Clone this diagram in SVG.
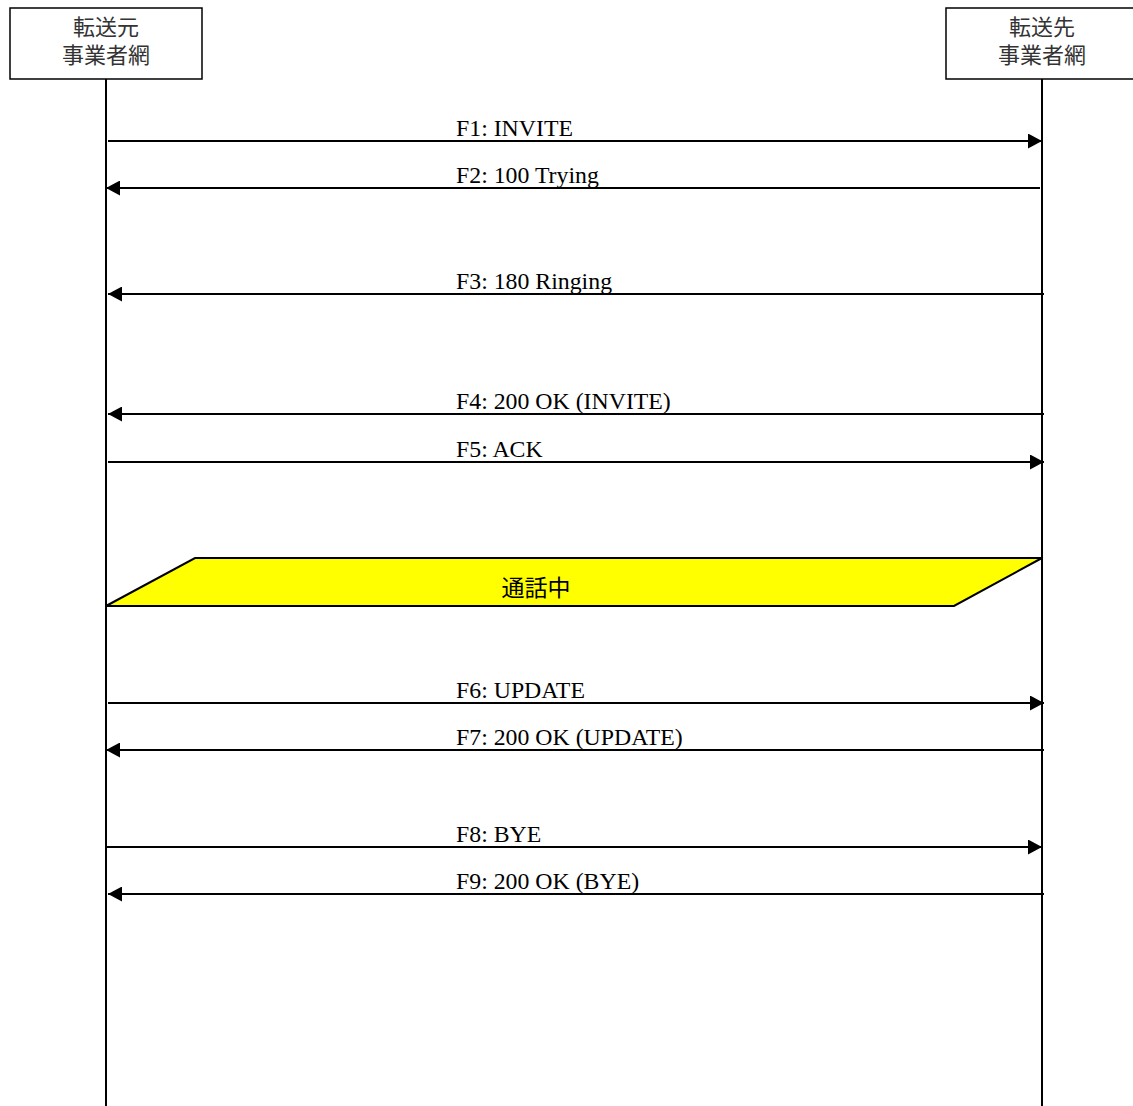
<svg xmlns="http://www.w3.org/2000/svg" width="1133" height="1106" viewBox="0 0 1133 1106">
<style>
.box{fill:#fff;stroke:#000;stroke-width:1.5}
.life{stroke:#000;stroke-width:2;fill:none}
.msg{stroke:#000;stroke-width:2;fill:none}
.jp{font-family:"Noto Sans CJK JP","Noto Sans CJK SC",sans-serif;font-size:22px;fill:#333;text-anchor:middle}
.lbl{font-family:"Liberation Serif","Times New Roman",serif;font-size:23.8px;fill:#000}
</style>
<defs>
<marker id="ah" markerWidth="14" markerHeight="15" refX="14" refY="7.5" orient="auto" markerUnits="userSpaceOnUse">
<path d="M0,0 L14,7.5 L0,15 Z" fill="#000"/>
</marker>
</defs>
<g id="node-src">
<rect class="box" x="10" y="8" width="192" height="71"/>
<text class="jp" x="106" y="35">転送元</text>
<text class="jp" x="106" y="63">事業者網</text>
<line class="life" x1="106" y1="79" x2="106" y2="1106"/>
</g>
<g id="node-dst">
<rect class="box" x="946" y="8" width="192" height="71"/>
<text class="jp" x="1042" y="35">転送先</text>
<text class="jp" x="1042" y="63">事業者網</text>
<line class="life" x1="1042" y1="79" x2="1042" y2="1106"/>
</g>
<g id="node-call">
<polygon points="106,606 195,558 1042,558 954,606" fill="#ffff00" stroke="#000" stroke-width="2"/>
<text class="jp" x="536" y="596" style="fill:#000;font-size:23px">通話中</text>
</g>
<g id="connectors">
<line class="msg" x1="108" y1="141" x2="1042" y2="141" marker-end="url(#ah)"/>
<line class="msg" x1="1040" y1="188" x2="106" y2="188" marker-end="url(#ah)"/>
<line class="msg" x1="1044" y1="294" x2="108" y2="294" marker-end="url(#ah)"/>
<line class="msg" x1="1044" y1="414" x2="108" y2="414" marker-end="url(#ah)"/>
<line class="msg" x1="108" y1="462" x2="1044" y2="462" marker-end="url(#ah)"/>
<line class="msg" x1="108" y1="703" x2="1044" y2="703" marker-end="url(#ah)"/>
<line class="msg" x1="1044" y1="750" x2="106" y2="750" marker-end="url(#ah)"/>
<line class="msg" x1="106" y1="847" x2="1042" y2="847" marker-end="url(#ah)"/>
<line class="msg" x1="1044" y1="894" x2="108" y2="894" marker-end="url(#ah)"/>
<text class="lbl" x="456" y="136">F1: INVITE</text>
<text class="lbl" x="456" y="183">F2: 100 Trying</text>
<text class="lbl" x="456" y="289">F3: 180 Ringing</text>
<text class="lbl" x="456" y="409">F4: 200 OK (INVITE)</text>
<text class="lbl" x="456" y="457">F5: ACK</text>
<text class="lbl" x="456" y="698">F6: UPDATE</text>
<text class="lbl" x="456" y="745">F7: 200 OK (UPDATE)</text>
<text class="lbl" x="456" y="842">F8: BYE</text>
<text class="lbl" x="456" y="889">F9: 200 OK (BYE)</text>
</g>
</svg>
